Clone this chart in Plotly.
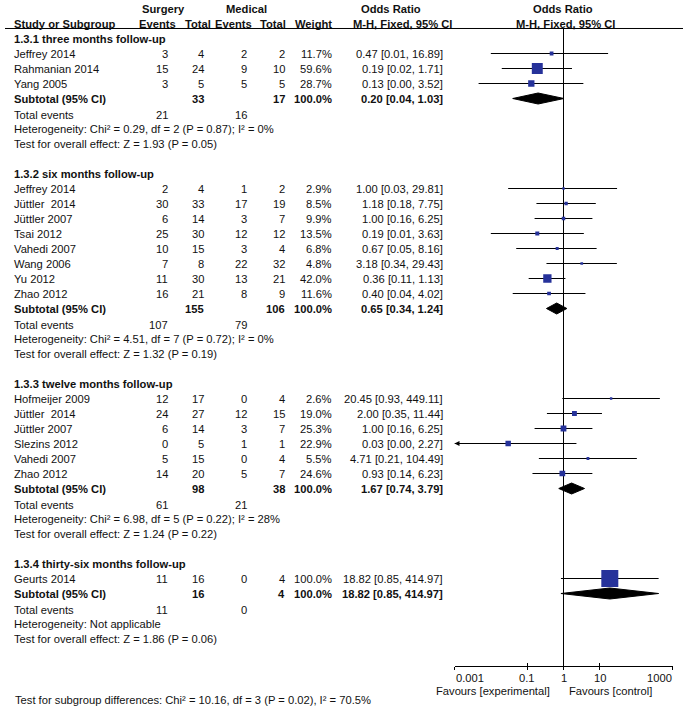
import math
import plotly.graph_objects as go

# ---------------- data ----------------
sub_names = ["1.3.1 three months follow-up", "1.3.2 six months follow-up",
             "1.3.3 twelve months follow-up", "1.3.4 thirty-six months follow-up"]

studies1 = ["Jeffrey 2014", "Rahmanian 2014", "Yang 2005"]
s_ev1 = [3, 15, 3]
s_tot1 = [4, 24, 5]
m_ev1 = [2, 9, 5]
m_tot1 = [2, 10, 5]
w1 = [11.7, 59.6, 28.7]
or1 = [0.47, 0.19, 0.13]
lo1 = [0.01, 0.02, 0.0046]
hi1 = [16.89, 1.71, 3.52]

studies2 = ["Jeffrey 2014", "Jüttler  2014", "Jüttler 2007", "Tsai 2012",
            "Vahedi 2007", "Wang 2006", "Yu 2012", "Zhao 2012"]
s_ev2 = [2, 30, 6, 25, 10, 7, 11, 16]
s_tot2 = [4, 33, 14, 30, 15, 8, 30, 21]
m_ev2 = [1, 17, 3, 12, 3, 22, 13, 8]
m_tot2 = [2, 19, 7, 12, 4, 32, 21, 9]
w2 = [2.9, 8.5, 9.9, 13.5, 6.8, 4.8, 42.0, 11.6]
or2 = [1.00, 1.18, 1.00, 0.19, 0.67, 3.18, 0.36, 0.40]
lo2 = [0.03, 0.18, 0.16, 0.01, 0.05, 0.34, 0.11, 0.04]
hi2 = [29.81, 7.75, 6.25, 3.63, 8.16, 29.43, 1.13, 4.02]

studies3 = ["Hofmeijer 2009", "Jüttler  2014", "Jüttler 2007", "Slezins 2012",
            "Vahedi 2007", "Zhao 2012"]
s_ev3 = [12, 24, 6, 0, 5, 14]
s_tot3 = [17, 27, 14, 5, 15, 20]
m_ev3 = [0, 12, 3, 1, 0, 5]
m_tot3 = [4, 15, 7, 1, 4, 7]
w3 = [2.6, 19.0, 25.3, 22.9, 5.5, 24.6]
or3 = [20.45, 2.00, 1.00, 0.03, 4.71, 0.93]
lo3 = [0.93, 0.35, 0.16, 0.0004, 0.21, 0.14]
hi3 = [449.11, 11.44, 6.25, 2.27, 104.49, 6.23]

studies4 = ["Geurts 2014"]
s_ev4 = [11]
s_tot4 = [16]
m_ev4 = [0]
m_tot4 = [4]
w4 = [100.0]
or4 = [18.82]
lo4 = [0.85]
hi4 = [414.97]

sub_s_tot = [33, 155, 98, 16]
sub_m_tot = [17, 106, 38, 4]
sub_or = [0.20, 0.65, 1.67, 18.82]
sub_lo = [0.04, 0.34, 0.74, 0.85]
sub_hi = [1.03, 1.24, 3.79, 414.97]
tot_s_ev = [21, 107, 61, 11]
tot_m_ev = [16, 79, 21, 0]
het_chi = [0.29, 4.51, 6.98, None]
het_df = [2, 7, 5, None]
het_p = [0.87, 0.72, 0.22, None]
het_i2 = [0, 0, 28, None]
z_val = [1.93, 1.32, 1.24, 1.86]
z_p = [0.05, 0.19, 0.22, 0.06]

diff_chi, diff_df, diff_p, diff_i2 = 10.16, 3, 0.02, 70.5

tick_vals = [0.001, 0.1, 1, 10, 1000]
tick_text = ["0.001", "0.1", "1", "10", "1000"]

groups = [
    (studies1, s_ev1, s_tot1, m_ev1, m_tot1, w1, or1, lo1, hi1),
    (studies2, s_ev2, s_tot2, m_ev2, m_tot2, w2, or2, lo2, hi2),
    (studies3, s_ev3, s_tot3, m_ev3, m_tot3, w3, or3, lo3, hi3),
    (studies4, s_ev4, s_tot4, m_ev4, m_tot4, w4, or4, lo4, hi4),
]

# ---------------- layout constants ----------------
W, H = 685, 707
ROW0, ROWH = 38.5, 15.0          # pixel y of row 0, row height
AXIS_Y = 665.5
XMIN, XMAX = 0.001, 1000
FONT = "Liberation Sans, Arial, sans-serif"
FS = 11.2
TXT = "#111111"
BLUE = "#26329a"

y_top = -ROW0 / ROWH
y_bot = (AXIS_Y - ROW0) / ROWH

COL_NAME = 13
COL_SEV = 169
COL_STOT = 205
COL_MEV = 248
COL_MTOT = 286
COL_W = 333
COL_OR = 444

annotations = []


def px(x):
    return x / W


def txt(x, row, s, anchor="right", bold=False):
    annotations.append(dict(
        x=px(x), xref="paper", y=row, yref="y", text=(f"<b>{s}</b>" if bold else s),
        showarrow=False, xanchor=anchor, yanchor="middle",
        font=dict(family=FONT, size=FS, color=TXT), borderpad=0))


def ci(o, l, h):
    return f"{o:.2f} [{l:.2f}, {h:.2f}]"


# headers
txt(163, -2, "Surgery", "center", True)
txt(246, -2, "Medical", "center", True)
txt(391, -2, "Odds Ratio", "center", True)
txt(563, -2, "Odds Ratio", "center", True)
txt(COL_NAME, -1, "Study or Subgroup", "left", True)
txt(177, -1, "Events", "right", True)
txt(212, -1, "Total", "right", True)
txt(253, -1, "Events", "right", True)
txt(287, -1, "Total", "right", True)
txt(COL_W, -1, "Weight", "right", True)
txt(402, -1, "M-H, Fixed, 95% CI", "center", True)
txt(565, -1, "M-H, Fixed, 95% CI", "center", True)

ci_x, ci_y = [], []
mk_x, mk_y, mk_s = [], [], []
arrows = []
diamonds = []

r = 0
for g, (names, sev, stot, mev, mtot, w, o, lo, hi) in enumerate(groups):
    txt(COL_NAME, r, sub_names[g], "left", True)
    for i, nm in enumerate(names):
        rr = r + 1 + i
        txt(COL_NAME, rr, nm, "left")
        txt(COL_SEV, rr, str(sev[i]))
        txt(COL_STOT, rr, str(stot[i]))
        txt(COL_MEV, rr, str(mev[i]))
        txt(COL_MTOT, rr, str(mtot[i]))
        txt(COL_W, rr, f"{w[i]:.1f}%")
        txt(COL_OR, rr, ci(o[i], lo[i], hi[i]))
        l_plot = max(lo[i], XMIN)
        h_plot = min(hi[i], XMAX)
        ci_x += [l_plot, h_plot, None]
        ci_y += [rr, rr, None]
        if lo[i] < XMIN:
            arrows.append(rr)
        mk_x.append(o[i])
        mk_y.append(rr)
        mk_s.append(2 + 0.15 * w[i])
    rs = r + 1 + len(names)
    txt(COL_NAME, rs, "Subtotal (95% CI)", "left", True)
    txt(COL_STOT, rs, str(sub_s_tot[g]), "right", True)
    txt(COL_MTOT, rs, str(sub_m_tot[g]), "right", True)
    txt(COL_W, rs, "100.0%", "right", True)
    txt(COL_OR, rs, ci(sub_or[g], sub_lo[g], sub_hi[g]), "right", True)
    diamonds.append((sub_lo[g], sub_or[g], sub_hi[g], rs))
    txt(COL_NAME, rs + 1.1, "Total events", "left")
    txt(COL_SEV, rs + 1.1, str(tot_s_ev[g]))
    txt(COL_MEV, rs + 1.1, str(tot_m_ev[g]))
    if het_chi[g] is None:
        het = "Heterogeneity: Not applicable"
    else:
        het = (f"Heterogeneity: Chi² = {het_chi[g]:.2f}, df = {het_df[g]} "
               f"(P = {het_p[g]:.2f}); I² = {het_i2[g]}%")
    txt(COL_NAME, rs + 2.05, het, "left")
    txt(COL_NAME, rs + 3.0, f"Test for overall effect: Z = {z_val[g]:.2f} (P = {z_p[g]:.2f})", "left")
    r = rs + 5

fig = go.Figure()

# null line at OR = 1
fig.add_trace(go.Scatter(x=[1, 1], y=[-0.667, y_bot], mode="lines",
                         line=dict(color="black", width=1), hoverinfo="skip", showlegend=False))

# CI lines
fig.add_trace(go.Scatter(x=ci_x, y=ci_y, mode="lines", line=dict(color="black", width=1),
                         hoverinfo="skip", showlegend=False))

# diamonds
HH = 5.5 / ROWH
for (l, o, h, rr) in diamonds:
    fig.add_trace(go.Scatter(x=[l, o, h, o, l], y=[rr, rr - HH, rr, rr + HH, rr],
                             mode="lines", fill="toself", fillcolor="black",
                             line=dict(color="black", width=1), hoverinfo="skip",
                             showlegend=False))

# study squares
fig.add_trace(go.Scatter(x=mk_x, y=mk_y, mode="markers",
                         marker=dict(symbol="square", size=mk_s, color=BLUE, opacity=1,
                                     line=dict(width=0)),
                         hoverinfo="skip", showlegend=False))

# overlay axis for inward ticks
fig.add_trace(go.Scatter(x=[1], y=[y_bot], xaxis="x2", mode="markers",
                         marker=dict(size=1, opacity=0), hoverinfo="skip", showlegend=False))

for rr in arrows:
    annotations.append(dict(x=math.log10(XMIN), y=rr, xref="x", yref="y",
                            ax=math.log10(XMIN) + 0.3, ay=rr, axref="x", ayref="y",
                            showarrow=True, arrowhead=2, arrowsize=1, arrowwidth=1,
                            arrowcolor="black", text="", standoff=0))

# tick labels (end labels aligned inward, like the reference)
for k, (tv, tt) in enumerate(zip(tick_vals, tick_text)):
    anc = "left" if k == 0 else ("right" if k == len(tick_vals) - 1 else "center")
    annotations.append(dict(x=math.log10(tv), xref="x", y=1 - 677.5 / H, yref="paper",
                            text=tt, showarrow=False, xanchor=anc, yanchor="middle",
                            font=dict(family=FONT, size=FS, color=TXT), borderpad=0))

annotations.append(dict(x=px(552), y=1 - 691 / H, xref="paper", yref="paper",
                        text="Favours [experimental]", showarrow=False, xanchor="right",
                        yanchor="middle", font=dict(family=FONT, size=FS, color=TXT)))
annotations.append(dict(x=px(567), y=1 - 691 / H, xref="paper", yref="paper",
                        text="Favours [control]", showarrow=False, xanchor="left",
                        yanchor="middle", font=dict(family=FONT, size=FS, color=TXT)))
annotations.append(dict(x=px(COL_NAME), y=1 - 700 / H, xref="paper", yref="paper",
                        text=(f"Test for subgroup differences: Chi² = {diff_chi:.2f}, df = {diff_df} "
                              f"(P = {diff_p:.2f}), I² = {diff_i2}%"),
                        showarrow=False, xanchor="left", yanchor="middle",
                        font=dict(family=FONT, size=FS, color=TXT)))

xdom = [454.5 / W, 672.5 / W]
fig.update_layout(
    width=W, height=H, autosize=False,
    margin=dict(l=0, r=0, t=0, b=0, pad=0, autoexpand=False),
    paper_bgcolor="white", plot_bgcolor="rgba(0,0,0,0)",
    showlegend=False,
    font=dict(family=FONT, size=FS, color=TXT),
    xaxis=dict(type="log", range=[-3, 3], domain=xdom, showgrid=False, zeroline=False,
               showline=True, linecolor="black", linewidth=1, ticks="outside", ticklen=3,
               tickcolor="black", tickwidth=1, tickvals=tick_vals, ticktext=tick_text,
               showticklabels=False, anchor="y", fixedrange=True, automargin=False),
    xaxis2=dict(type="log", range=[-3, 3], domain=xdom, overlaying="x", anchor="y",
                showgrid=False, zeroline=False, showline=False, ticks="inside", ticklen=3,
                tickcolor="black", tickwidth=1, tickvals=tick_vals, showticklabels=False,
                side="bottom", automargin=False),
    yaxis=dict(range=[y_bot, y_top], domain=[(H - AXIS_Y) / H, 1], visible=False,
               showgrid=False, zeroline=False, fixedrange=True, automargin=False),
    shapes=[dict(type="line", xref="paper", yref="y", x0=px(5), x1=px(683),
                 y0=-0.667, y1=-0.667, line=dict(color="black", width=1))],
    annotations=annotations,
)

fig.write_html(
    "out.html",
    config={"displayModeBar": False, "staticPlot": True},
    post_script="document.body.style.margin='0';document.body.style.padding='0';"
                "document.body.style.overflow='hidden';",
)
